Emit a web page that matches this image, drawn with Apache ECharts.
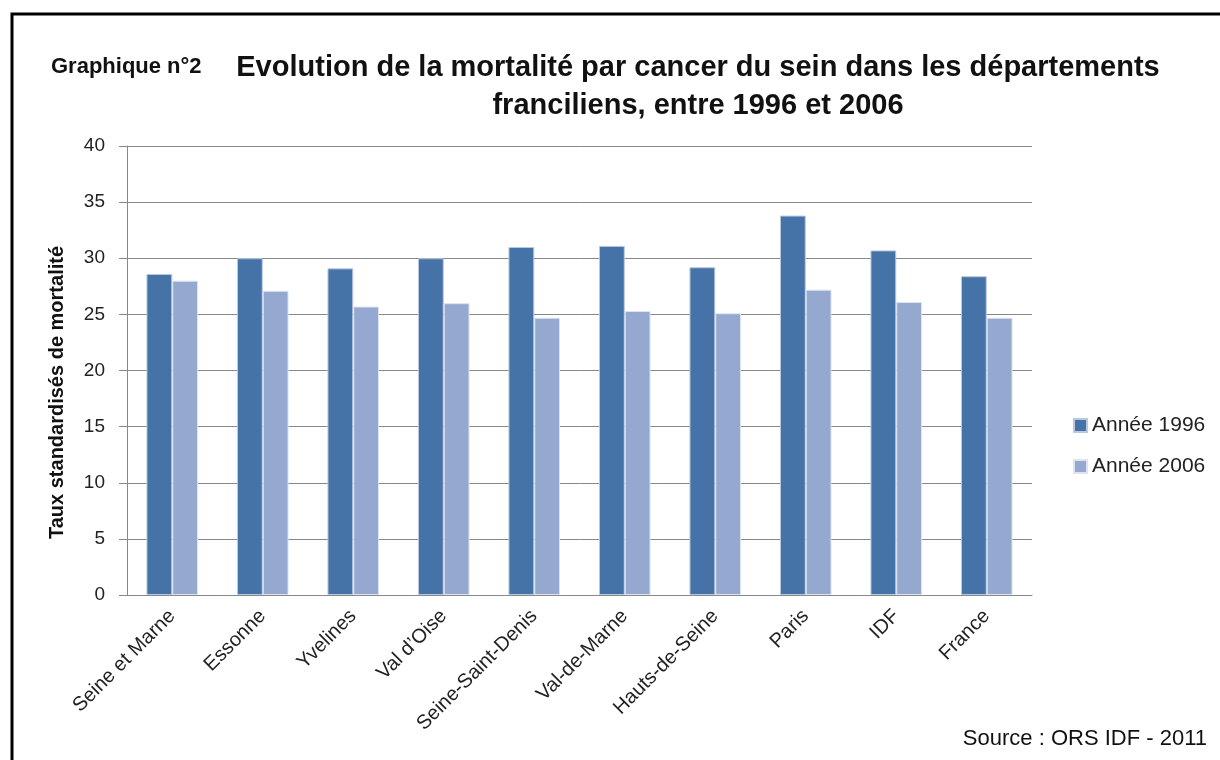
<!DOCTYPE html>
<html>
<head>
<meta charset="utf-8">
<title>Mortalité cancer du sein</title>
<script src="https://cdn.jsdelivr.net/npm/echarts@6/dist/echarts.min.js"></script>
<style>
  html, body { margin: 0; padding: 0; background: #fff; }
  #chart { width: 1220px; height: 760px; }
</style>
</head>
<body>
<div id="chart"></div>
<script>
// données
var departements = ['Seine et Marne', 'Essonne', 'Yvelines', "Val d\u2019Oise", 'Seine-Saint-Denis',
  'Val-de-Marne', 'Hauts-de-Seine', 'Paris', 'IDF', 'France'];
var annee1996 = [28.6, 30.0, 29.1, 30.0, 31.0, 31.1, 29.2, 33.8, 30.7, 28.4];
var annee2006 = [28.0, 27.1, 25.7, 26.0, 24.7, 25.3, 25.1, 27.2, 26.1, 24.7];
var seriesNames = ['Année 1996', 'Année 2006'];

var police = "'Liberation Sans', Arial, sans-serif";

var myChart = echarts.init(document.getElementById('chart'));
myChart.setOption({
  backgroundColor: '#fff',
  animation: false,
  textStyle: { fontFamily: police },
  title: [{
    text: 'Evolution de la mortalité par cancer du sein dans les départements\nfranciliens, entre 1996 et 2006',
    left: 693, top: 44, textAlign: 'center',
    textStyle: { fontSize: 29, fontWeight: 'bold', color: '#111', lineHeight: 38, fontFamily: police }
  }, {
    text: 'Graphique n°2',
    left: 46, top: 51,
    textStyle: { fontSize: 22, fontWeight: 'bold', color: '#111', fontFamily: police }
  }, {
    text: 'Source : ORS IDF - 2011',
    right: 8, top: 723,
    textStyle: { fontSize: 22, fontWeight: 'normal', color: '#111', fontFamily: police }
  }],
  graphic: [{
    type: 'polyline',
    shape: { points: [[12, 760], [12, 14], [1220, 14]] },
    style: { stroke: '#000', lineWidth: 3, fill: null }
  }],
  legend: {
    orient: 'vertical',
    left: 1068, top: 410,
    itemWidth: 13, itemHeight: 13, itemGap: 20,
    icon: 'rect',
    data: seriesNames,
    textStyle: { fontSize: 21, color: '#222', fontFamily: police }
  },
  grid: { left: 127, right: 188, top: 146, bottom: 165, containLabel: false },
  xAxis: {
    type: 'category',
    data: departements,
    axisLine: { lineStyle: { color: '#888' } },
    axisTick: { show: false },
    axisLabel: { rotate: 45, fontSize: 20, color: '#222', margin: 18, interval: 0 }
  },
  yAxis: {
    type: 'value',
    min: 0, max: 40, interval: 5,
    name: 'Taux standardisés de mortalité',
    nameLocation: 'middle', nameGap: 60, nameRotate: 90,
    nameTextStyle: { fontSize: 20, fontWeight: 'bold', color: '#111', padding: [0, 44, 0, 0] },
    axisLine: { show: true, lineStyle: { color: '#888' } },
    axisTick: { show: true, length: 8, lineStyle: { color: '#888' } },
    axisLabel: { fontSize: 19, color: '#222', margin: 22 },
    splitLine: { lineStyle: { color: '#888', width: 1 } }
  },
  series: [{
    name: seriesNames[0],
    type: 'bar',
    data: annee1996,
    barGap: '0%',
    barCategoryGap: '43%',
    itemStyle: { color: '#4572A7', borderColor: '#B9C8DE', borderWidth: 1 }
  }, {
    name: seriesNames[1],
    type: 'bar',
    data: annee2006,
    itemStyle: { color: '#95A9D0', borderColor: '#DDE4F0', borderWidth: 1 }
  }]
});
</script>
</body>
</html>
